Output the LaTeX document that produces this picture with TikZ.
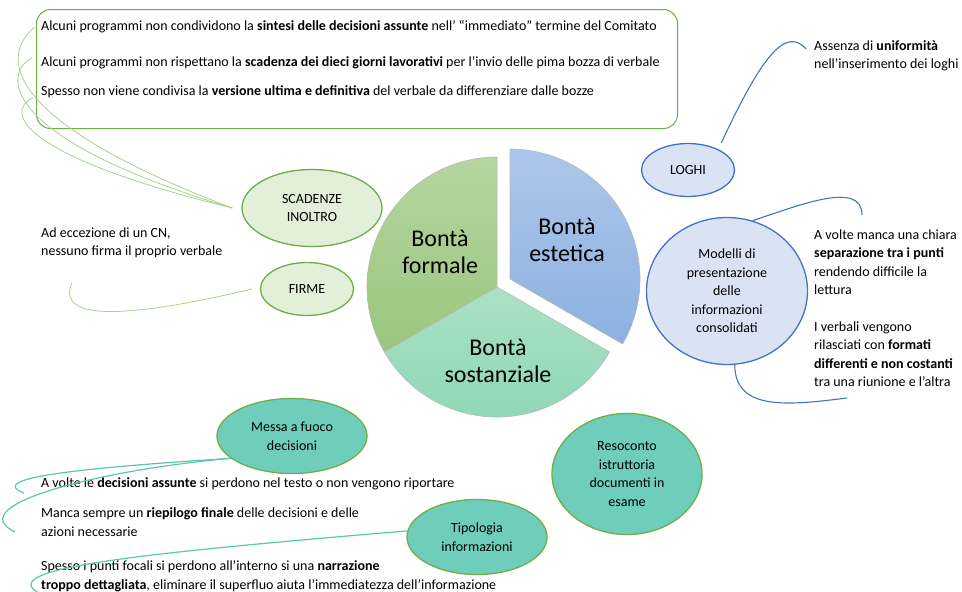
\documentclass[tikz,border=0pt]{standalone}
\usepackage{fontspec}
\setmainfont{Carlito}
\usetikzlibrary{shapes.geometric}

\definecolor{grline}{RGB}{112,173,71}
\definecolor{grfill}{RGB}{226,240,217}
\definecolor{grcurve}{RGB}{169,209,142}
\definecolor{blline}{RGB}{68,114,196}
\definecolor{blfill}{RGB}{218,227,243}
\definecolor{tlfill}{RGB}{111,206,187}
\definecolor{tlcurve}{RGB}{86,200,176}
\definecolor{formtop}{RGB}{180,213,160}
\definecolor{formbot}{RGB}{155,198,125}
\definecolor{estetop}{RGB}{172,199,234}
\definecolor{estebot}{RGB}{140,176,224}
\definecolor{sosttop}{RGB}{170,225,198}
\definecolor{sostbot}{RGB}{140,214,178}

\begin{document}
\begin{tikzpicture}[x=1pt,y=-1pt,
    every node/.style={font=\fontsize{14}{18.5}\selectfont},
    txt/.style={anchor=west,inner sep=0pt,align=left},
    bubble/.style={ellipse,draw,line width=1.3pt,inner sep=0pt,align=center},
    gbubble/.style={bubble,draw=grline,fill=grfill},
    bbubble/.style={bubble,draw=blline,fill=blfill},
    tbubble/.style={bubble,draw=grline,fill=tlfill},
    slice/.style={draw=gray!55,line width=0.6pt},
    big/.style={font=\fontsize{24}{27}\selectfont,align=center},
    gcurve/.style={grcurve,line width=0.8pt},
    bcurve/.style={blline,line width=1.1pt},
    tcurve/.style={tlcurve,line width=1.2pt}]
  \useasboundingbox (0,0) rectangle (962,592);

  % box with the three remarks on the deadlines
  \node[draw=grline,line width=1pt,rounded corners=14pt,minimum width=641pt,
        minimum height=119pt,anchor=north west] (box) at (36,9) {};
  \node[txt] (t1) at (41,27) {Alcuni programmi non condividono la \textbf{sintesi delle decisioni assunte} nell’ “immediato” termine del Comitato};
  \node[txt] (t2) at (41,63) {Alcuni programmi non rispettano la \textbf{scadenza dei dieci giorni lavorativi} per l’invio delle pima bozza di verbale};
  \node[txt] (t3) at (41,92) {Spesso non viene condivisa la \textbf{versione ultima e definitiva} del verbale da differenziare dalle bozze};

  % pie
  \coordinate (c) at (497,287);
  \coordinate (ce) at (510,279);
  \path[slice,top color=formtop,bottom color=formbot]
    (c) -- ++(-90:130) arc[start angle=-90,end angle=-210,radius=130] -- cycle;
  \path[slice,top color=sosttop,bottom color=sostbot]
    (c) -- ++(150:130) arc[start angle=150,end angle=30,radius=130] -- cycle;
  \path[slice,top color=estetop,bottom color=estebot]
    (ce) -- ++(30:130) arc[start angle=30,end angle=-90,radius=130] -- cycle;
  \node[big] (formale) at (440,252) {Bontà\\formale};
  \node[big] (estetica) at (567,240) {Bontà\\estetica};
  \node[big] (sostanz) at (498,361) {Bontà\\sostanziale};

  % left side
  \node[gbubble,minimum width=140pt,minimum height=77pt] (scad) at (312,208) {SCADENZE\\INOLTRO};
  \node[gbubble,minimum width=93pt,minimum height=53pt] (firme) at (307,289) {FIRME};
  \node[txt] (cn) at (41,243) {Ad eccezione di un CN,\\nessuno firma il proprio verbale};

  \coordinate (s1) at (35,27);
  \coordinate (s2) at (32,58);
  \coordinate (s3) at (33,98);
  \coordinate (f1) at (72,283);
  \draw[gcurve] ([xshift=-9pt]scad.west) .. controls (0,120) and (0,55) .. (s1);
  \draw[gcurve] ([xshift=-9pt]scad.west) .. controls (5,140) and (0,75) .. (s2);
  \draw[gcurve] ([xshift=-9pt]scad.west) .. controls (15,155) and (5,110) .. (s3);
  \draw[gcurve] ([xshift=-8pt]firme.west) .. controls (130,318) and (55,322) .. (f1);

  % right side
  \node[bbubble,minimum width=93pt,minimum height=53pt] (loghi) at (688,170) {LOGHI};
  \node[bbubble,minimum width=161pt,minimum height=147pt] (modelli) at (727,291)
    {Modelli di\\presentazione\\delle\\informazioni\\consolidati};
  \node[txt] (logtxt) at (814,56) {Assenza di \textbf{uniformità}\\nell’inserimento dei loghi};
  \node[txt] (sep) at (814,262) {A volte manca una chiara\\\textbf{separazione tra i punti}\\rendendo difficile la\\lettura};
  \node[txt] (fmt) at (814,354) {I verbali vengono\\rilasciati con \textbf{formati}\\\textbf{differenti e non costanti}\\tra una riunione e l’altra};

  \coordinate (l1) at (806,49);
  \coordinate (m1) at (862,215);
  \coordinate (m2) at (847,398);
  \draw[bcurve] ([yshift=8pt]loghi.north east) .. controls (760,60) and (785,25) .. (l1);
  \draw[bcurve] (modelli.70) .. controls (800,205) and (862,180) .. (m1);
  \draw[bcurve] (modelli.-84) .. controls (735,412) and (790,405) .. (m2);

  % bottom
  \node[tbubble,minimum width=150pt,minimum height=75pt] (messa) at (292,436) {Messa a fuoco\\decisioni};
  \node[tbubble,minimum width=140pt,minimum height=75pt] (tipo) at (477,537) {Tipologia\\informazioni};
  \node[tbubble,minimum width=150pt,minimum height=121pt] (resoc) at (627,474)
    {Resoconto\\istruttoria\\documenti in\\esame};
  \node[txt] (dec) at (41,484) {A volte le \textbf{decisioni assunte} si perdono nel testo o non vengono riportare};
  \node[txt] (riep) at (41,522) {Manca sempre un \textbf{riepilogo finale} delle decisioni e delle\\azioni necessarie};
  \node[txt] (narr) at (41,576) {Spesso i punti focali si perdono all’interno si una \textbf{narrazione}\\\textbf{troppo dettagliata}, eliminare il superfluo aiuta l’immediatezza dell’informazione};

  \coordinate (d1) at (24,493);
  \coordinate (d2) at (15,532);
  \coordinate (n1) at (45,596);
  \draw[tcurve] (messa.200) .. controls (80,468) and (-15,478) .. (d1);
  \draw[tcurve] (messa.200) .. controls (100,470) and (-40,505) .. (d2);
  \draw[tcurve] (tipo.175) .. controls (120,555) and (-15,570) .. (n1);
\end{tikzpicture}
\end{document}
